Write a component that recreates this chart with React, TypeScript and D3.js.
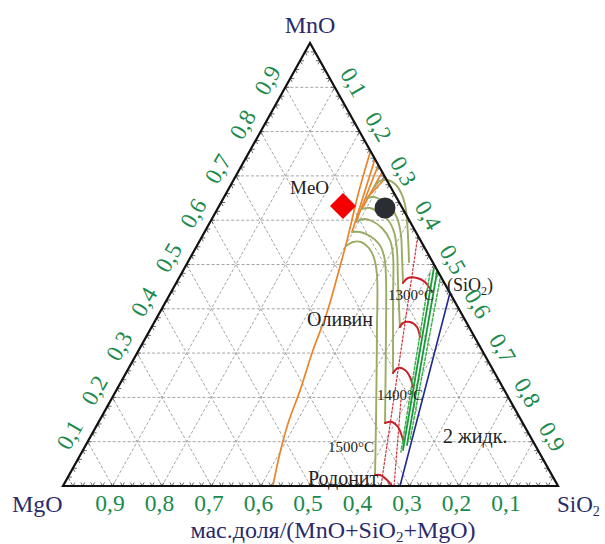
import React from "react";
import * as d3 from "d3";

// every point is [MnO, SiO2] as mass fractions; MgO = 1 - MnO - SiO2
type TP = [number, number];

const ticks = [0.1, 0.2, 0.3, 0.4, 0.5, 0.6, 0.7, 0.8, 0.9];
const tickText = ["0,1", "0,2", "0,3", "0,4", "0,5", "0,6", "0,7", "0,8", "0,9"];

const orangeMain: TP[] = [
  [0.756, 0.244], [0.657, 0.268], [0.555, 0.297], [0.481, 0.316], [0.391, 0.338],
  [0.307, 0.352], [0.217, 0.371], [0.142, 0.384], [0.075, 0.401], [0, 0.424],
];
const orangeFan: TP[][] = [
  [[0.738, 0.262], [0.5734, 0.2978]],
  [[0.7246, 0.2754], [0.5959, 0.2945]],
  [[0.7088, 0.2912], [0.6253, 0.2919]],
  [[0.6953, 0.3047], [0.6501, 0.2897]],
];
const olivine: TP[][] = [
  [[0.6727, 0.2925], [0.6885, 0.2968], [0.6907, 0.3119], [0.6795, 0.3337], [0.6569, 0.357], [0.623, 0.382], [0.5666, 0.4141], [0.5056, 0.4467]],
  [[0.6501, 0.2897], [0.6524, 0.3028], [0.6456, 0.3202], [0.6298, 0.3463], [0.605, 0.3729], [0.5666, 0.4], [0.5214, 0.4246], [0.4582, 0.4582]],
  [[0.6253, 0.2919], [0.6275, 0.3071], [0.6185, 0.3277], [0.6005, 0.357], [0.5734, 0.3826], [0.5327, 0.4089], [0.465, 0.4446], [0.3589, 0.5016]],
  [[0.5959, 0.2945], [0.6027, 0.3073], [0.5982, 0.3257], [0.5824, 0.3537], [0.5553, 0.3834], [0.5214, 0.4065], [0.4199, 0.4572], [0.2551, 0.5394]],
  [[0.5734, 0.2978], [0.5734, 0.3139], [0.5643, 0.3386], [0.5463, 0.3659], [0.5192, 0.3895], [0.4763, 0.4147], [0.3521, 0.4768], [0.1422, 0.5796]],
  [[0.5418, 0.3014], [0.5508, 0.3109], [0.5508, 0.3271], [0.5372, 0.3501], [0.5147, 0.3715], [0.4763, 0.3966], [0.3521, 0.4586], [0.149, 0.558], [0.0248, 0.618]],
];
const redArcs: TP[][] = [
  [[0.4582, 0.4582], [0.4695, 0.4626], [0.4695, 0.4808], [0.4605, 0.5014], [0.4379, 0.5269]],
  [[0.3589, 0.5016], [0.3679, 0.5032], [0.3702, 0.5164], [0.3589, 0.536], [0.3363, 0.5533]],
  [[0.2551, 0.5394], [0.2664, 0.5438], [0.2619, 0.5602], [0.246, 0.5782], [0.2235, 0.5956]],
  [[0.1422, 0.5796], [0.1445, 0.5925], [0.1332, 0.6103], [0.1038, 0.6352]],
  [[0.0248, 0.618], [0.0248, 0.6281], [0.0135, 0.6479], [0, 0.6646]],
];
const redDotted: TP[][] = [
  [[0.5621, 0.436], [0, 0.6424]],
  [[0.1941, 0.5859], [0, 0.6687]],
];
const greenSolid: TP[][] = [
  [[0.4921, 0.5038], [0.0813, 0.6463]],
  [[0.4831, 0.5145], [0.0926, 0.6487]],
];
const greenDashed: TP[][] = [
  [[0.4808, 0.5014], [0.0767, 0.6444]],
  [[0.4673, 0.5285], [0.1038, 0.6493]],
];
const blueLine: TP[] = [[0.4357, 0.5643], [0, 0.6808]];
const meoPoint: TP = [0.6321, 0.2503];
const blackPoint: TP = [0.6275, 0.3374];

const notes: { text: string; at: TP; size: number }[] = [
  { text: "MeO", at: [0.6591, 0.1297], size: 19 },
  { text: "Оливин", at: [0.3612, 0.3127], size: 20 },
  { text: "1300°C", at: [0.4199, 0.4471], size: 15 },
  { text: "1400°C", at: [0.1941, 0.5374], size: 15 },
  { text: "1500°C", at: [0.0767, 0.497], size: 15 },
  { text: "Родонит", at: [0.0023, 0.4937], size: 20 },
  { text: "2 жидк.", at: [0.0971, 0.7192], size: 20 },
];

const W = 605;
const H = 544;
const FONT = "'Liberation Serif', 'Times New Roman', serif";
const NAVY = "#2b2a6b";
const TICKGREEN = "#1b8a4c";

const xs = d3.scaleLinear().domain([0, 1]).range([63, 558]);
const ys = d3.scaleLinear().domain([0, 1]).range([486, 43]);
const apexShift = (310 - 63) / (558 - 63);
const proj = ([mno, sio2]: TP): [number, number] => [xs(sio2 + mno * apexShift), ys(mno)];

const line = d3.line<TP>().x((d) => proj(d)[0]).y((d) => proj(d)[1]);
const smooth = d3.line<TP>().x((d) => proj(d)[0]).y((d) => proj(d)[1]).curve(d3.curveCatmullRom.alpha(0.5));

export default function App() {
  const grid: [TP, TP][] = [];
  ticks.forEach((v) => {
    grid.push([[v, 0], [v, 1 - v]]);
    grid.push([[0, v], [1 - v, v]]);
    grid.push([[0, 1 - v], [1 - v, 0]]);
  });

  const minor: [TP, TP][] = [];
  const d = 0.008;
  for (let i = 1; i < 50; i++) {
    const t = i / 50;
    minor.push([[0, t], [d, t]], [[0, t], [d, t - d]]);
    minor.push([[t, 0], [t, d]], [[t, 0], [t - d, d]]);
    minor.push([[t, 1 - t], [t, 1 - t - d]], [[t, 1 - t], [t - d, 1 - t]]);
  }

  const [dx, dy] = proj(meoPoint);
  const dr = 13;
  const [cx, cy] = proj(blackPoint);
  const siLabel = proj([0.4402, 0.5562]);

  return (
    <svg width={W} height={H} style={{ position: "absolute", left: 0, top: 0, background: "#fff" }} fontFamily={FONT}>
      <g stroke="#9a9a9a" strokeWidth={0.9} strokeDasharray="3,2" fill="none">
        {grid.map((g, i) => (
          <path key={i} d={line(g) || ""} />
        ))}
      </g>
      <g stroke="#555" strokeWidth={0.9} fill="none">
        {minor.map((g, i) => (
          <path key={i} d={line(g) || ""} />
        ))}
      </g>

      <g fill="none" strokeLinecap="round">
        <path d={smooth(orangeMain) || ""} stroke="#e8852a" strokeWidth={1.7} />
        {orangeFan.map((p, i) => (
          <path key={i} d={line(p) || ""} stroke="#e8852a" strokeWidth={1.7} />
        ))}
        {olivine.map((p, i) => (
          <path key={i} d={smooth(p) || ""} stroke="#9aab63" strokeWidth={1.9} />
        ))}
        {redDotted.map((p, i) => (
          <path key={i} d={line(p) || ""} stroke="#d0303a" strokeWidth={1.2} strokeDasharray="2,2" />
        ))}
        {redArcs.map((p, i) => (
          <path key={i} d={smooth(p) || ""} stroke="#c8202a" strokeWidth={2} />
        ))}
        {greenDashed.map((p, i) => (
          <path key={i} d={line(p) || ""} stroke="#3cb04a" strokeWidth={1.5} strokeDasharray="3,2" />
        ))}
        {greenSolid.map((p, i) => (
          <path key={i} d={line(p) || ""} stroke="#1a9a3a" strokeWidth={1.8} />
        ))}
        <path d={line(blueLine) || ""} stroke="#1f2a8c" strokeWidth={1.6} />
      </g>

      <path
        d={line([[0, 0], [0, 1], [1, 0]]) + "Z"}
        fill="none"
        stroke="#111"
        strokeWidth={2.2}
        strokeLinejoin="miter"
      />

      <path d={`M${dx},${dy - dr}L${dx + dr},${dy}L${dx},${dy + dr}L${dx - dr},${dy}Z`} fill="#f40000" />
      <circle cx={cx} cy={cy} r={10.5} fill="#2a2d33" />

      <g fill="#222">
        {notes.map((n, i) => {
          const [x, y] = proj(n.at);
          return (
            <text key={i} x={x} y={y} fontSize={n.size}>
              {n.text}
            </text>
          );
        })}
        <text x={siLabel[0]} y={siLabel[1]} fontSize={18}>
          (SiO<tspan fontSize={12} dy={4}>2</tspan>
          <tspan dy={-4}>)</tspan>
        </text>
      </g>

      <g fill={TICKGREEN} fontSize={23.5}>
        {ticks.map((v, i) => {
          const [x] = proj([0, 1 - v]);
          return (
            <text key={"b" + i} x={x - 2.5} y={511} textAnchor="middle">
              {tickText[i]}
            </text>
          );
        })}
        {ticks.map((v, i) => {
          const [x, y] = proj([v, 0]);
          return (
            <text
              key={"l" + i}
              transform={`translate(${x - 18},${y - 7}) rotate(-60)`}
              textAnchor="middle"
              dominantBaseline="central"
            >
              {tickText[i]}
            </text>
          );
        })}
        {ticks.map((v, i) => {
          const [x, y] = proj([1 - v, v]);
          return (
            <text
              key={"r" + i}
              transform={`translate(${x + 19},${y - 5}) rotate(60)`}
              textAnchor="middle"
              dominantBaseline="central"
            >
              {tickText[i]}
            </text>
          );
        })}
      </g>

      <g fill={NAVY} fontSize={24}>
        <text x={proj([1, 0])[0]} y={33} textAnchor="middle">MnO</text>
        <text x={12} y={512}>MgO</text>
        <text x={557} y={512} fontSize={23}>
          SiO<tspan fontSize={14} dy={4}>2</tspan>
        </text>
        <text x={333} y={538} textAnchor="middle" fontSize={24}>
          мас.доля/(MnO+SiO<tspan fontSize={15} dy={4}>2</tspan>
          <tspan dy={-4}>+MgO)</tspan>
        </text>
      </g>
    </svg>
  );
}
